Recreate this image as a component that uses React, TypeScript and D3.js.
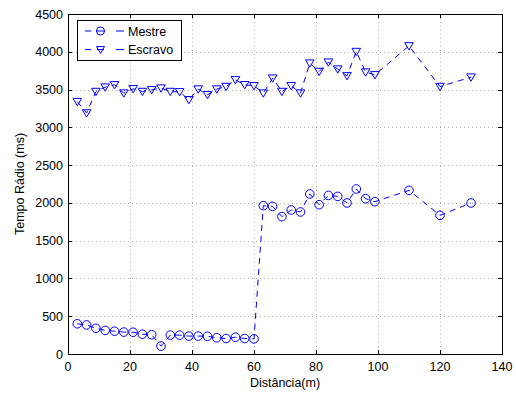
import React, { useRef, useEffect } from "react";
import * as d3 from "d3";

const distances = [
  3, 6, 9, 12, 15, 18, 21, 24, 27, 30, 33, 36, 39, 42, 45, 48, 51, 54, 57, 60,
  63, 66, 69, 72, 75, 78, 81, 84, 87, 90, 93, 96, 99, 110, 120, 130,
];
const mestre = [
  400, 385, 340, 312, 302, 290, 288, 262, 255, 105, 250, 250, 237, 237, 235, 215, 205, 222, 205, 200,
  1963, 1954, 1818, 1906, 1880, 2118, 1976, 2099, 2086, 1999, 2184, 2056, 2016, 2166, 1835, 1999,
];
const escravo = [
  3340, 3190, 3474, 3532, 3563, 3453, 3510, 3474, 3497, 3519, 3474, 3470, 3365, 3506, 3431, 3506, 3540, 3629, 3563, 3550,
  3453, 3651, 3474, 3550, 3453, 3850, 3739, 3863, 3770, 3682, 4003, 3731, 3695, 4078, 3540, 3664,
];
const xTicks = [0, 20, 40, 60, 80, 100, 120, 140];
const yTicks = [0, 500, 1000, 1500, 2000, 2500, 3000, 3500, 4000, 4500];
const seriesNames = ["Mestre", "Escravo"];

export default function App() {
  const svgRef = useRef<SVGSVGElement>(null);

  useEffect(() => {
    document.body.style.margin = "0";
    const svg = d3.select(svgRef.current);
    svg.selectAll("*").remove();

    const width = 516;
    const height = 394;
    const left = 68, right = 502, top = 14, bottom = 354;
    const blue = "#0000ff";
    const font = "'Liberation Sans', Arial, sans-serif";
    const fs = "12.5px";

    const x = d3.scaleLinear().domain([0, 140]).range([left, right]);
    const y = d3.scaleLinear().domain([0, 4500]).range([bottom, top]);

    svg.attr("width", width).attr("height", height);
    svg.append("rect").attr("width", width).attr("height", height).attr("fill", "#fff");

    // grid (dotted, like matlab)
    const grid = svg.append("g").attr("stroke", "#b0b0b0").attr("stroke-width", 1).attr("stroke-dasharray", "1,3");
    xTicks.slice(1, -1).forEach(t => {
      grid.append("line").attr("x1", Math.round(x(t)) + 0.5).attr("x2", Math.round(x(t)) + 0.5).attr("y1", top).attr("y2", bottom);
    });
    yTicks.slice(1, -1).forEach(t => {
      grid.append("line").attr("y1", Math.round(y(t)) + 0.5).attr("y2", Math.round(y(t)) + 0.5).attr("x1", left).attr("x2", right);
    });

    // box + ticks
    const ax = svg.append("g").attr("stroke", "#000").attr("stroke-width", 1).attr("fill", "none");
    ax.append("rect").attr("x", left + 0.5).attr("y", top + 0.5).attr("width", right - left).attr("height", bottom - top);
    xTicks.forEach(t => {
      const px = Math.round(x(t)) + 0.5;
      ax.append("line").attr("x1", px).attr("x2", px).attr("y1", bottom).attr("y2", bottom - 4);
      ax.append("line").attr("x1", px).attr("x2", px).attr("y1", top).attr("y2", top + 4);
    });
    yTicks.forEach(t => {
      const py = Math.round(y(t)) + 0.5;
      ax.append("line").attr("y1", py).attr("y2", py).attr("x1", left).attr("x2", left + 4);
      ax.append("line").attr("y1", py).attr("y2", py).attr("x1", right).attr("x2", right - 4);
    });

    const labels = svg.append("g").style("font-family", font).style("font-size", fs).attr("fill", "#000");
    xTicks.forEach(t => {
      labels.append("text").attr("x", x(t)).attr("y", bottom + 17).attr("text-anchor", "middle").text(t);
    });
    yTicks.forEach(t => {
      labels.append("text").attr("x", left - 5).attr("y", y(t) + 4.5).attr("text-anchor", "end").text(t);
    });
    labels.append("text").attr("x", (left + right) / 2).attr("y", 387).attr("text-anchor", "middle").text("Distância(m)");
    labels.append("text")
      .attr("transform", `translate(24,${(top + bottom) / 2}) rotate(-90)`)
      .attr("text-anchor", "middle")
      .text("Tempo Rádio (ms)");

    const line = d3.line<number>().x((d, i) => x(distances[i])).y(d => y(d));
    const tri = (cx: number, cy: number, s: number) =>
      `M${cx - s},${cy - s * 0.75}L${cx + s},${cy - s * 0.75}L${cx},${cy + s * 0.95}Z`;

    const plot = svg.append("g");
    [mestre, escravo].forEach(vals => {
      plot.append("path").attr("d", line(vals)).attr("fill", "none").attr("stroke", blue)
        .attr("stroke-width", 1).attr("stroke-dasharray", "6,5");
    });
    plot.selectAll("circle.m").data(mestre).join("circle")
      .attr("cx", (d, i) => x(distances[i])).attr("cy", d => y(d)).attr("r", 4.3)
      .attr("fill", "none").attr("stroke", blue).attr("stroke-width", 1);
    plot.selectAll("path.e").data(escravo).join("path").attr("class", "e")
      .attr("d", (d, i) => tri(x(distances[i]), y(d), 4.3))
      .attr("fill", "none").attr("stroke", blue).attr("stroke-width", 1);

    // legend
    const lg = svg.append("g");
    lg.append("rect").attr("x", 77.5).attr("y", 20.5).attr("width", 104).attr("height", 40)
      .attr("fill", "#fff").attr("stroke", "#000").attr("stroke-width", 1);
    seriesNames.forEach((name, i) => {
      const ly = 31 + i * 18.6;
      const seg = (a: number, b: number) =>
        lg.append("line").attr("x1", a).attr("x2", b).attr("y1", ly).attr("y2", ly).attr("stroke", blue).attr("stroke-width", 1);
      seg(85, 91);
      seg(116, 124);
      if (i === 0) {
        seg(96, 105);
        lg.append("circle").attr("cx", 100.5).attr("cy", ly).attr("r", 4)
          .attr("fill", "none").attr("stroke", blue);
      } else {
        seg(97, 104);
        lg.append("path").attr("d", tri(100.5, ly, 4)).attr("fill", "none").attr("stroke", blue);
      }
      lg.append("text").attr("x", 128).attr("y", ly + 4.5).style("font-family", font).style("font-size", fs).text(name);
    });
  }, []);

  return <svg ref={svgRef} style={{ display: "block" }} />;
}
